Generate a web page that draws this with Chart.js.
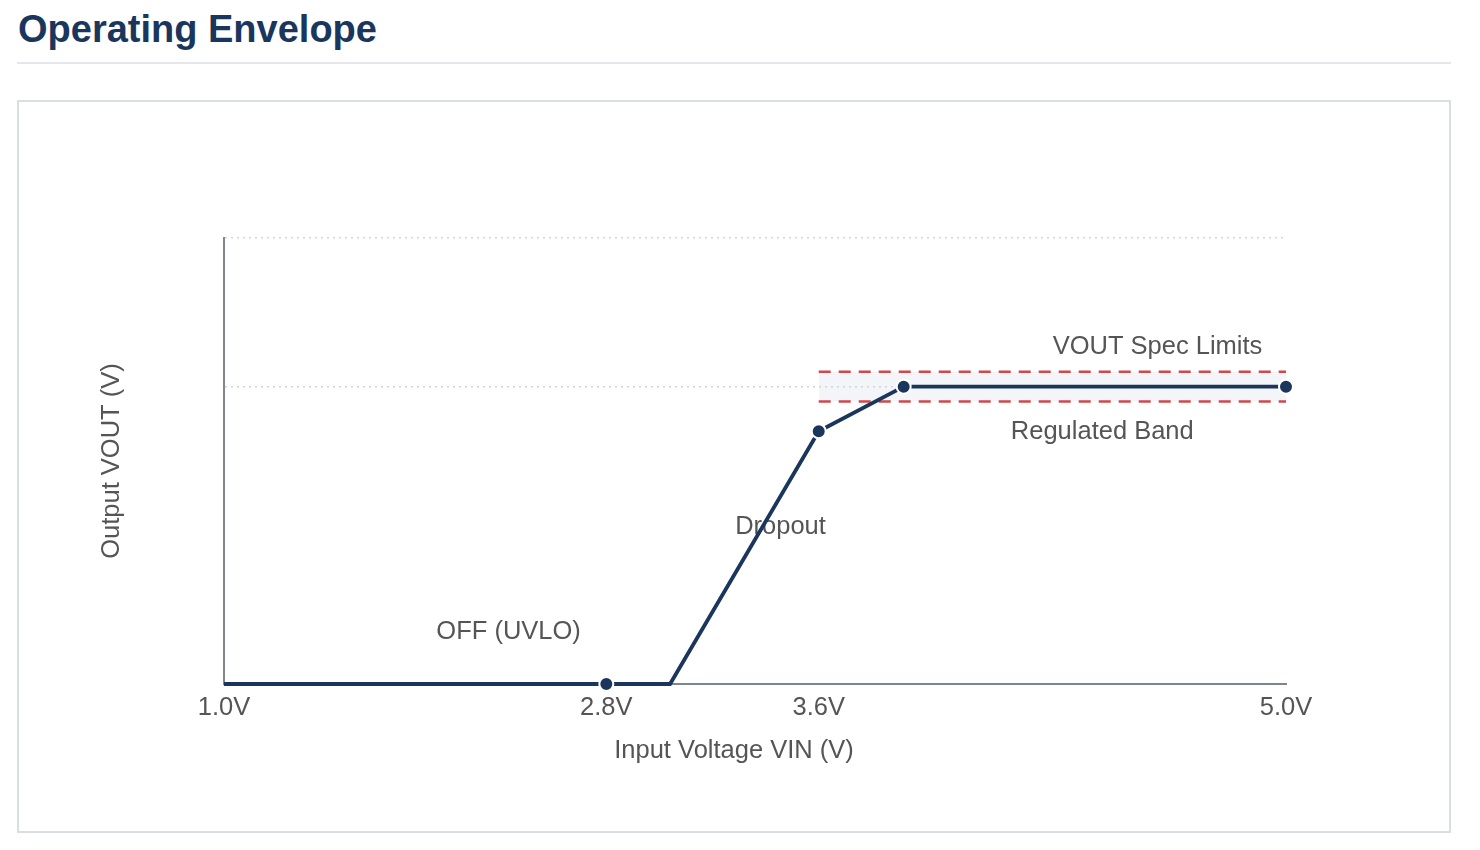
<!DOCTYPE html>
<html>
<head>
<meta charset="utf-8">
<script src="https://cdn.jsdelivr.net/npm/chart.js@4/dist/chart.umd.min.js"></script>
<style>
  body { margin: 0; background: #fff; font-family: "Liberation Sans", Arial, sans-serif; }
  h1 { position: absolute; left: 18px; top: 8px; margin: 0; font-size: 38px; font-weight: bold; color: #1b365d; }
  .rule { position: absolute; left: 17px; top: 62px; width: 1434px; height: 2px; background: #e3e7eb; }
  .box { position: absolute; left: 17px; top: 100px; width: 1430px; height: 729px; border: 2px solid #d9dee3; }
  .box canvas { position: absolute; left: 0; top: 0; }
</style>
</head>
<body>
<h1>Operating Envelope</h1>
<div class="rule"></div>
<div class="box"><canvas id="myChart" width="1430" height="729"></canvas></div>
<script>
// envelope curve: position along VIN axis (0..100) and VOUT level (0..150)
var vinPos = [0, 36, 42, 56, 64, 100];
var vout = [0, 0, 0, 85, 100, 100];
var marker = [false, true, false, true, true, true];
// VIN tick positions + labels
var tickPos = [0, 36, 56, 100];
var tickLabels = ['1.0V', '2.8V', '3.6V', '5.0V'];
// VOUT grid levels
var yTicks = [0, 100, 150];
// spec limit band
var specX = [56, 100];
var specHi = [105, 105];
var specLo = [95, 95];

var navy = '#1b365d';
var red = '#d0484b';
var grey = '#555';
var fam = '"Liberation Sans", Arial, sans-serif';
var xTitle = 'Input Voltage VIN (V)';

function pts(xs, ys) {
  return xs.map(function (x, i) { return { x: x, y: ys[i] }; });
}

// text labels placed in data units
var notes = [
  { text: 'OFF (UVLO)', x: 26.8, y: 17.5 },
  { text: 'Dropout', x: 52.4, y: 52.8 },
  { text: 'Regulated Band', x: 82.7, y: 84.8 },
  { text: 'VOUT Spec Limits', x: 87.9, y: 113.3 }
];

var notePlugin = {
  id: 'notes',
  beforeDatasetsDraw: function (chart) {
    var c = chart.ctx, xs = chart.scales.x, ys = chart.scales.y;
    c.save();
    c.font = '25.5px ' + fam;
    c.fillStyle = grey;
    c.textAlign = 'center';
    c.textBaseline = 'middle';
    notes.forEach(function (n) {
      c.fillText(n.text, xs.getPixelForValue(n.x), ys.getPixelForValue(n.y));
    });
    // x axis title, centred on the whole panel
    c.fillText(xTitle, chart.width / 2, xs.bottom - 80);
    c.restore();
  }
};

var ctx = document.getElementById('myChart').getContext('2d');
var chart = new Chart(ctx, {
  type: 'line',
  data: {
    datasets: [{
      data: pts(vinPos, vout),
      borderColor: navy,
      borderWidth: 3.8,
      backgroundColor: navy,
      pointRadius: marker.map(function (m) { return m ? 7 : 0; }),
      pointBorderColor: '#fff',
      pointBorderWidth: 2,
      tension: 0,
      clip: false,
      order: 0
    }, {
      data: pts(specX, specHi),
      borderColor: red,
      borderWidth: 2.5,
      borderDash: [12, 8],
      pointRadius: 0,
      fill: false,
      clip: false,
      order: 1
    }, {
      data: pts(specX, specLo),
      borderColor: red,
      borderWidth: 2.5,
      borderDash: [12, 8],
      pointRadius: 0,
      fill: '-1',
      backgroundColor: 'rgba(200,210,222,0.22)',
      clip: false,
      order: 1
    }]
  },
  options: {
    responsive: false,
    animation: false,
    layout: { padding: { left: 78, right: 163, top: 136, bottom: 0 } },
    plugins: {
      legend: { display: false },
      tooltip: { enabled: false }
    },
    scales: {
      x: {
        type: 'linear',
        min: 0,
        max: 100,
        afterBuildTicks: function (s) { s.ticks = tickPos.map(function (v) { return { value: v }; }); },
        afterFit: function (s) { s.height = 147; },
        ticks: {
          color: grey,
          font: { size: 25.5, family: fam },
          padding: 9,
          maxRotation: 0,
          autoSkip: false,
          callback: function (v) { return tickLabels[tickPos.indexOf(v)]; }
        },
        grid: { display: false, drawTicks: false },
        border: { display: true, color: '#7d858f', width: 2 },
        title: { display: false }
      },
      y: {
        min: 0,
        max: 150,
        afterBuildTicks: function (s) { s.ticks = yTicks.map(function (v) { return { value: v }; }); },
        afterFit: function (s) { s.width = 127; },
        ticks: { display: false },
        grid: { color: '#d3d7dc', lineWidth: 1.5, drawTicks: false },
        border: { display: true, color: '#80868e', width: 2, dash: [2, 4] },
        title: {
          display: true,
          text: 'Output VOUT (V)',
          color: grey,
          font: { size: 25.5, family: fam },
          padding: { top: 0, bottom: 0 }
        }
      }
    }
  },
  plugins: [notePlugin]
});
</script>
</body>
</html>
